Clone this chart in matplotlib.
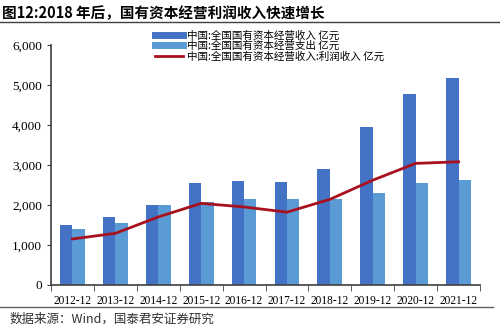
import numpy as np
import matplotlib.pyplot as plt
from matplotlib.lines import Line2D

plt.rcParams['font.family'] = ['Liberation Serif', 'Noto Sans CJK SC']

# 国有资本经营收入/支出/利润收入, 亿元
dates = ['2012-12', '2013-12', '2014-12', '2015-12', '2016-12',
         '2017-12', '2018-12', '2019-12', '2020-12', '2021-12']
income = [1490, 1710, 2010, 2550, 2600, 2580, 2900, 3960, 4780, 5170]
spend = [1390, 1560, 2010, 2070, 2150, 2150, 2150, 2290, 2560, 2620]
profit = [1150, 1290, 1700, 2040, 1950, 1820, 2140, 2620, 3040, 3080]

names = ['中国:全国国有资本经营收入 亿元',
         '中国:全国国有资本经营支出 亿元',
         '中国:全国国有资本经营收入:利润收入 亿元']

c_dark = '#4472C4'
c_light = '#5B9BD5'
c_line = '#A8101E'

fig = plt.figure(figsize=(5, 3.29), dpi=100)
ax = fig.add_axes([0.102, 0.134, 0.858, 0.729])

x = np.arange(len(dates))
w = 0.29
ax.bar(x - w / 2, income, w, color=c_dark, label=names[0])
ax.bar(x + w / 2, spend, w, color=c_light, label=names[1])
ax.plot(x, profit, color=c_line, lw=2, label=names[2])

ax.set_xlim(-0.5, len(dates) - 0.5)
ax.set_ylim(0, 6000)
ax.set_yticks(np.arange(0, 6001, 1000))
ax.set_yticklabels([f'{v:,}' for v in range(0, 6001, 1000)], fontsize=9.5)
ax.set_xticks(x)
ax.set_xticklabels(dates, fontsize=8.3)
ax.tick_params(axis='x', length=0, pad=7)
ax.set_xticks(np.arange(-0.5, len(dates)), minor=True)
ax.tick_params(axis='x', which='minor', length=4, color='#404040')
ax.tick_params(axis='y', length=3, color='#404040')

for s in ['top', 'right']:
    ax.spines[s].set_visible(False)
for s in ['left', 'bottom']:
    ax.spines[s].set_color('#404040')
    ax.spines[s].set_linewidth(1.2)

leg = ax.legend(handles=[
    Line2D([0], [0], color=c_dark, lw=5),
    Line2D([0], [0], color=c_light, lw=5),
    Line2D([0], [0], color=c_line, lw=2)],
    labels=names, loc='upper center', bbox_to_anchor=(0.51, 1.1),
    frameon=False, prop={'family': ['Noto Sans CJK SC'], 'size': 7.6},
    handlelength=2.6, labelspacing=0.0, handletextpad=0.4)

fig.text(0.005, 0.945, '图12:2018 年后，国有资本经营利润收入快速增长',
         family=['Noto Sans CJK SC'], fontsize=10.5, fontweight='bold')
fig.add_artist(Line2D([0, 1], [0.932, 0.932], color='#404040', lw=1))
fig.add_artist(Line2D([0.0, 0.985], [0.068, 0.068], color='#606060', lw=1))
fig.text(0.02, 0.018, '数据来源：Wind，国泰君安证券研究',
         family=['Noto Sans CJK SC'], fontsize=9, color='#303030')

fig.savefig('out.png', dpi=100)
